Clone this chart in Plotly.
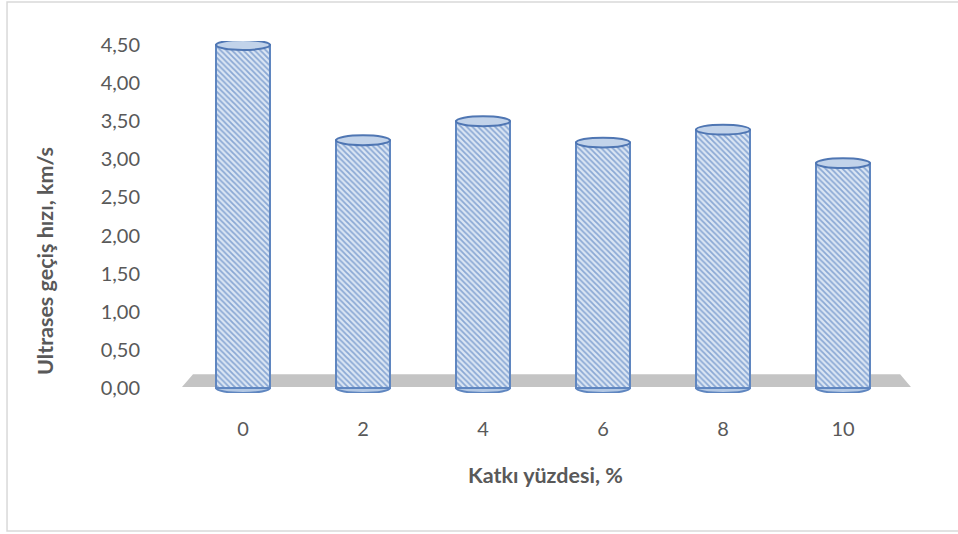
import plotly.graph_objects as go

categories = ["0", "2", "4", "6", "8", "10"]
values = [4.50, 3.25, 3.50, 3.22, 3.39, 2.95]
y_ticks = [0, 0.5, 1.0, 1.5, 2.0, 2.5, 3.0, 3.5, 4.0, 4.5]
x_title = "Katkı yüzdesi, %"
y_title = "Ultrases geçiş hızı, km/s"

FONT = "Lato"
TXT = "#595959"
BAR_W = 0.45
CAP = 0.065

fig = go.Figure()
fig.add_trace(go.Bar(
    x=categories, y=values, width=BAR_W,
    marker=dict(
        color="#c3d4ea",
        line=dict(color="#5f86c0", width=2),
        pattern=dict(shape="\\", fgcolor="#8aa8d4", bgcolor="#dbe6f4",
                     size=4, solidity=0.45, fillmode="replace"),
    ),
    hoverinfo="x+y",
))

shapes = []
# floor
shapes.append(dict(type="path", xref="paper", yref="y", layer="below",
                   path="M -0.0014,0.013 L 1.011,0.013 L 0.996,0.18 L 0.0139,0.18 Z",
                   fillcolor="#c4c4c4", line=dict(width=0)))
for i, v in enumerate(values):
    # bottom cap
    shapes.append(dict(type="circle", xref="x", yref="y", layer="below",
                       x0=i - BAR_W / 2, x1=i + BAR_W / 2, y0=-CAP, y1=CAP,
                       fillcolor="#b3c8e4", line=dict(color="#5f86c0", width=2)))
    # top cap
    shapes.append(dict(type="circle", xref="x", yref="y", layer="above",
                       x0=i - BAR_W / 2, x1=i + BAR_W / 2, y0=v - CAP, y1=v + CAP,
                       fillcolor="#c2d3ea", line=dict(color="#4f76b3", width=2)))
# outer chart border
shapes.append(dict(type="rect", xref="paper", yref="paper",
                   x0=-0.2444, x1=1.08, y0=-0.392, y1=1.111,
                   line=dict(color="#d9d9d9", width=1.5), fillcolor="rgba(0,0,0,0)"))

fig.update_layout(
    width=958, height=534,
    margin=dict(l=183, r=55, t=41, b=141),
    paper_bgcolor="white", plot_bgcolor="white",
    separators=",.",
    showlegend=False,
    shapes=shapes,
    font=dict(family=FONT, color=TXT),
    xaxis=dict(type="category", showgrid=False, showline=False, zeroline=False,
               ticks="", tickfont=dict(size=20, color=TXT, family=FONT),
               ticklabelstandoff=22),
    yaxis=dict(range=[-0.0656, 4.553], tickvals=y_ticks, tickformat=".2f",
               showgrid=False, showline=False, zeroline=False, ticks="",
               tickfont=dict(size=20, color=TXT, family=FONT),
               ticklabelstandoff=42),
    annotations=[
        dict(text="<b>" + y_title + "</b>", xref="paper", yref="paper",
             x=-0.1917, y=0.375, xanchor="center", yanchor="middle",
             textangle=-90, showarrow=False,
             font=dict(size=21.5, color=TXT, family=FONT)),
        dict(text="<b>" + x_title + "</b>", xref="paper", yref="paper",
             x=0.504, y=-0.233, xanchor="center", yanchor="middle",
             showarrow=False,
             font=dict(size=21.5, color=TXT, family=FONT)),
    ],
)

fig.write_html("out.html")
